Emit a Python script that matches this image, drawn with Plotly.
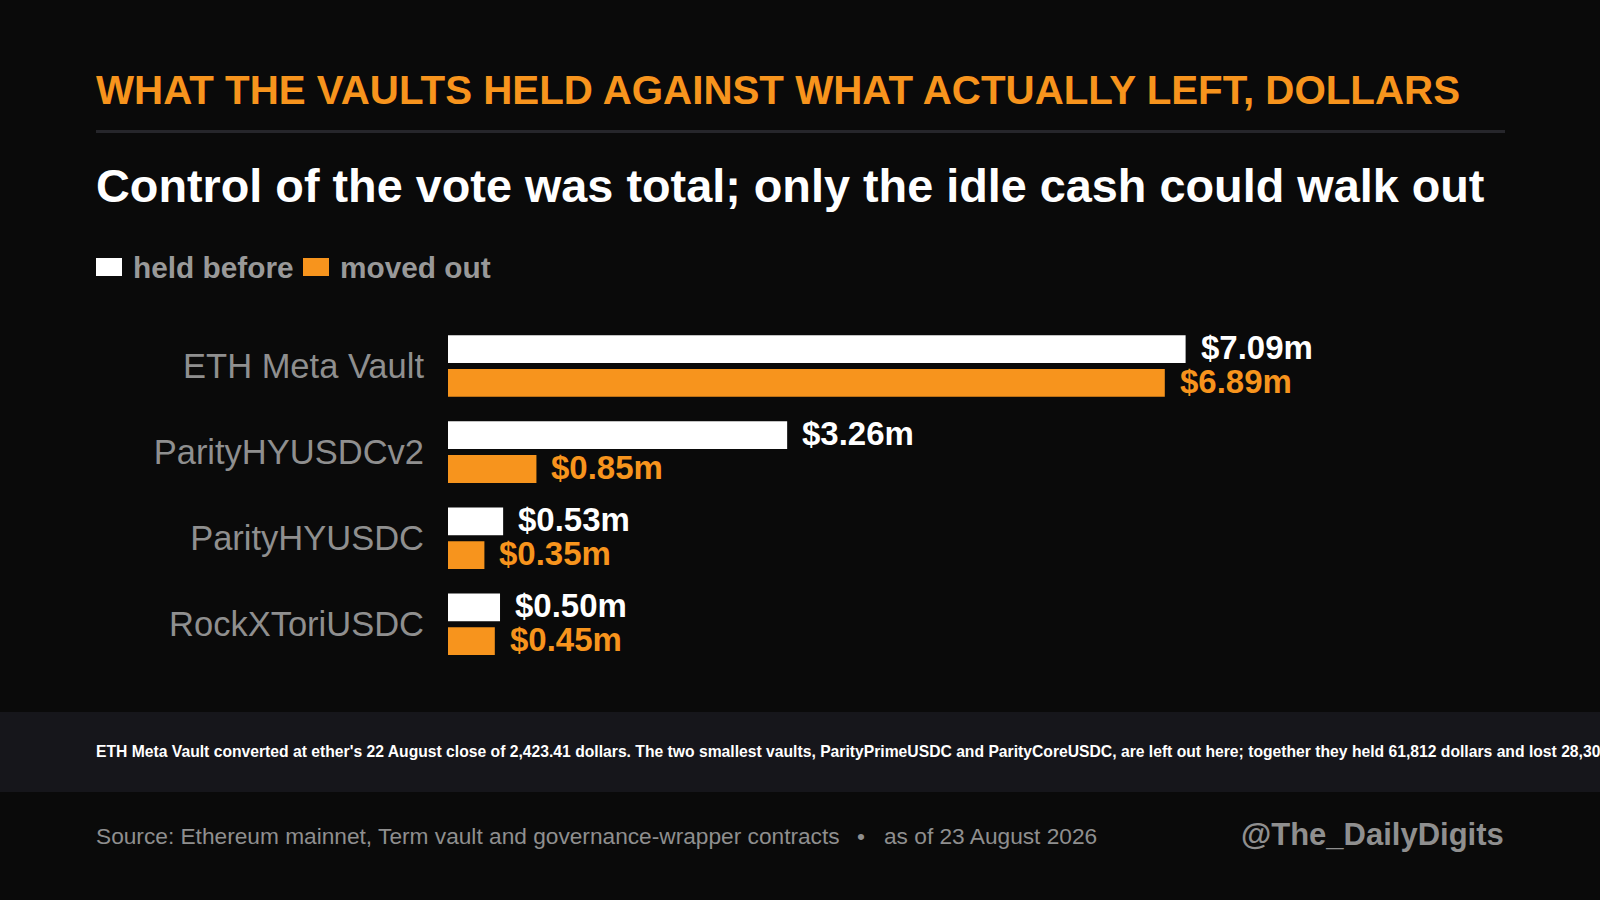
import plotly.graph_objects as go

# ---- data ----
vaults = ["ETH Meta Vault", "ParityHYUSDCv2", "ParityHYUSDC", "RockXToriUSDC"]
held_before = [7.09, 3.26, 0.53, 0.50]
moved_out = [6.89, 0.85, 0.35, 0.45]
series_names = ["held before", "moved out"]

title_text = "WHAT THE VAULTS HELD AGAINST WHAT ACTUALLY LEFT, DOLLARS"
subtitle_text = "Control of the vote was total; only the idle cash could walk out"
note_text = ("ETH Meta Vault converted at ether's 22 August close of 2,423.41 dollars. "
             "The two smallest vaults, ParityPrimeUSDC and ParityCoreUSDC, are left out here; "
             "together they held 61,812 dollars and lost 28,304 dollars.")
source_text = "Source: Ethereum mainnet, Term vault and governance-wrapper contracts"
date_text = "as of 23 August 2026"
handle_text = "@The_DailyDigits"

# ---- style ----
W, H = 1600, 900
BG = "#0a0a0a"
WHITE = "#ffffff"
ORANGE = "#f7941d"
GRAY = "#8f8f8f"
FONT = "Liberation Sans, Arial, Helvetica, sans-serif"
colors = [WHITE, ORANGE]


def px(x):
    return x / W


def py(y):
    return 1 - y / H


fig = go.Figure()
for name, vals, col in zip(series_names, [held_before, moved_out], colors):
    fig.add_trace(go.Bar(
        x=vals, y=vaults, orientation="h", name=name,
        marker=dict(color=col, line=dict(width=0)),
        hoverinfo="skip", showlegend=False,
    ))

annotations = []
shapes = []

# value labels
for vals, col, ysh in [(held_before, WHITE, 19), (moved_out, ORANGE, -15)]:
    for v, cat in zip(vals, vaults):
        annotations.append(dict(
            x=v, y=cat, xref="x", yref="y", text=f"${v:.2f}m",
            xanchor="left", yanchor="middle", xshift=13, yshift=ysh,
            showarrow=False, font=dict(family=FONT, size=33, color=col, weight="bold"),
        ))

# title block
annotations.append(dict(x=px(94), y=py(90.5), xref="paper", yref="paper", text=title_text,
                        xanchor="left", yanchor="middle", showarrow=False,
                        font=dict(family=FONT, size=40.3, color=ORANGE, weight="bold")))
shapes.append(dict(type="line", xref="paper", yref="paper", x0=px(96), x1=px(1505),
                   y0=py(131.5), y1=py(131.5), line=dict(color="#26262b", width=3)))
annotations.append(dict(x=px(94), y=py(185.5), xref="paper", yref="paper", text=subtitle_text,
                        xanchor="left", yanchor="middle", showarrow=False,
                        font=dict(family=FONT, size=46.8, color=WHITE, weight="bold")))

# legend (custom)
legend_pos = [(96, 131), (303, 338)]
for (sx, tx), name, col in zip(legend_pos, series_names, colors):
    shapes.append(dict(type="rect", xref="paper", yref="paper", x0=px(sx), x1=px(sx + 26),
                       y0=py(276), y1=py(258), fillcolor=col, line=dict(width=0)))
    annotations.append(dict(x=px(tx), y=py(267.5), xref="paper", yref="paper", text=name,
                            xanchor="left", yanchor="middle", showarrow=False,
                            font=dict(family=FONT, size=29.8, color="#999999", weight="bold")))

# footnote band
shapes.append(dict(type="rect", xref="paper", yref="paper", x0=0, x1=1,
                   y0=py(792), y1=py(712), fillcolor="#16161b", line=dict(width=0), layer="below"))
annotations.append(dict(x=px(94), y=py(751.5), xref="paper", yref="paper", text=note_text,
                        xanchor="left", yanchor="middle", showarrow=False,
                        font=dict(family=FONT, size=15.7, color=WHITE, weight="bold")))

# source / date / handle
annotations.append(dict(x=px(94), y=py(836), xref="paper", yref="paper", text=source_text,
                        xanchor="left", yanchor="middle", showarrow=False,
                        font=dict(family=FONT, size=22.7, color=GRAY)))
annotations.append(dict(x=px(861), y=py(836), xref="paper", yref="paper", text="•",
                        xanchor="center", yanchor="middle", showarrow=False,
                        font=dict(family=FONT, size=22.7, color=GRAY)))
annotations.append(dict(x=px(882), y=py(836), xref="paper", yref="paper", text=date_text,
                        xanchor="left", yanchor="middle", showarrow=False,
                        font=dict(family=FONT, size=22.7, color=GRAY)))
annotations.append(dict(x=px(1506), y=py(834), xref="paper", yref="paper", text=handle_text,
                        xanchor="right", yanchor="middle", showarrow=False,
                        font=dict(family=FONT, size=31, color=GRAY, weight="bold")))

fig.update_layout(
    width=W, height=H,
    paper_bgcolor=BG, plot_bgcolor=BG,
    margin=dict(l=0, r=0, t=0, b=0),
    barmode="group", bargap=0.215, bargroupgap=0.1775,
    showlegend=False,
    font=dict(family=FONT, color=GRAY),
    xaxis=dict(domain=[px(448), px(1505)], range=[0, 10.16], visible=False, fixedrange=True),
    yaxis=dict(domain=[py(667.35), py(322.95)], autorange="reversed",
               showgrid=False, zeroline=False, showline=False, ticks="",
               ticklabelstandoff=23,
               tickfont=dict(family=FONT, size=34.5, color=GRAY), fixedrange=True),
    annotations=annotations, shapes=shapes,
)

fig.write_html(
    "out.html",
    config={"displayModeBar": False},
    post_script="document.body.style.margin='0';document.body.style.background='#0a0a0a';",
)
